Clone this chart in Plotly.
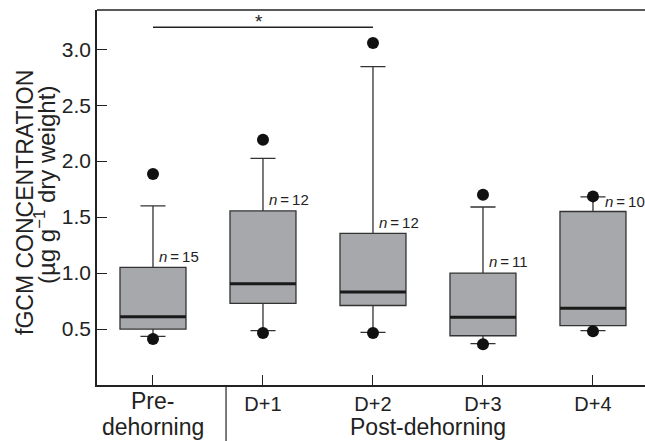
import plotly.graph_objects as go

categories = ["Pre-dehorning", "D+1", "D+2", "D+3", "D+4"]
n_labels = ["15", "12", "12", "11", "10"]
q1 = [0.50, 0.73, 0.71, 0.44, 0.53]
median = [0.61, 0.905, 0.83, 0.605, 0.685]
q3 = [1.05, 1.555, 1.355, 1.00, 1.55]
whisk_lo = [0.435, 0.485, 0.47, 0.37, 0.485]
whisk_hi = [1.60, 2.025, 2.845, 1.59, 1.68]
dot_lo = [0.41, 0.465, 0.465, 0.365, 0.48]
dot_hi = [1.885, 2.19, 3.055, 1.70, 1.685]
yticks = [0.5, 1.0, 1.5, 2.0, 2.5, 3.0]

pos = list(range(len(categories)))
BOXW = 0.6
FONT = "Liberation Sans, Arial, Helvetica, sans-serif"
PW, PH = 548, 375  # plot area size in px
TXT = "#222222"

fig = go.Figure()
fig.add_trace(go.Box(
    x=pos, q1=q1, median=median, q3=q3,
    lowerfence=whisk_lo, upperfence=whisk_hi,
    width=BOXW, whiskerwidth=0.38,
    fillcolor="#a7a8ab", line=dict(color="#333333", width=1.3),
    boxpoints=False, showlegend=False, hoverinfo="skip",
))
# thick median lines
for i, m in zip(pos, median):
    fig.add_trace(go.Scatter(
        x=[i - BOXW / 2, i + BOXW / 2], y=[m, m], mode="lines",
        line=dict(color="#1a1a1a", width=3), showlegend=False, hoverinfo="skip"))
# dots
fig.add_trace(go.Scatter(
    x=pos + pos, y=dot_lo + dot_hi, mode="markers",
    marker=dict(color="#111111", size=12), showlegend=False, hoverinfo="skip"))

# n labels
for i, n in enumerate(n_labels):
    if i == 4:
        xx, yy = i + 0.095, whisk_hi[i] - 0.04
    else:
        xx, yy = i + 0.04, q3[i] + 0.10
    fig.add_annotation(x=xx, y=yy, xref="x", yref="y", xanchor="left", yanchor="middle",
                       text=f"<i>n</i>\u2009=\u2009{n}", showarrow=False,
                       font=dict(family=FONT, size=15, color=TXT))

# significance bar
fig.add_trace(go.Scatter(x=[0, 2], y=[3.196, 3.196], mode="lines",
                         line=dict(color=TXT, width=1.6), showlegend=False, hoverinfo="skip"))
fig.add_annotation(x=0.965, y=3.25, text="*", showarrow=False, xref="x", yref="y",
                   font=dict(family=FONT, size=19, color=TXT))

# category 0 label (two lines) and group label
fig.add_annotation(x=0, y=-(401 - 385) / PH, xref="x", yref="paper", text="Pre-",
                   xanchor="center", yanchor="middle", showarrow=False,
                   font=dict(family=FONT, size=23, color=TXT))
fig.add_annotation(x=0, y=-(427 - 385) / PH, xref="x", yref="paper", text="dehorning",
                   xanchor="center", yanchor="middle", showarrow=False,
                   font=dict(family=FONT, size=23, color=TXT))
fig.add_annotation(x=2.5, y=-(427 - 385) / PH, xref="x", yref="paper", text="Post-dehorning",
                   xanchor="center", yanchor="middle", showarrow=False,
                   font=dict(family=FONT, size=23, color=TXT))
fig.add_shape(type="line", xref="x", yref="paper", x0=0.664, x1=0.664, y0=0, y1=-60 / PH,
              line=dict(color=TXT, width=1.2))
# top border
fig.add_shape(type="line", xref="paper", yref="paper", x0=0, x1=1, y0=1, y1=1,
              line=dict(color=TXT, width=1.5))

# y title
fig.add_annotation(x=(25 - 97) / PW, y=(385 - 203) / PH, xref="paper", yref="paper",
                   text="fGCM CONCENTRATION", xanchor="center", yanchor="middle",
                   textangle=-90, showarrow=False, font=dict(family=FONT, size=23, color=TXT))
fig.add_annotation(x=(45 - 97) / PW, y=(385 - 185) / PH, xref="paper", yref="paper",
                   text="(µg g<sup>−1</sup> dry weight)", xanchor="center", yanchor="middle",
                   textangle=-90, showarrow=False, font=dict(family=FONT, size=24, color=TXT))

ticktext = [""] + categories[1:]
fig.update_layout(
    width=645, height=441,
    margin=dict(l=97, r=0, t=10, b=56, autoexpand=False),
    plot_bgcolor="white", paper_bgcolor="white",
    font=dict(family=FONT, color=TXT),
    xaxis=dict(range=[-0.509, 4.473], tickvals=pos, ticktext=ticktext, automargin=False,
               ticks="inside", ticklen=10, tickcolor=TXT, tickwidth=1,
               showline=True, linecolor=TXT, linewidth=1.5,
               showgrid=False, zeroline=False, tickfont=dict(size=20, family=FONT, color=TXT)),
    yaxis=dict(range=[0, 3.35], tickvals=yticks, ticktext=[f"{v:.1f}" for v in yticks], automargin=False,
               ticks="inside", ticklen=10, tickcolor=TXT, tickwidth=1,
               showline=True, linecolor=TXT, linewidth=1.5,
               showgrid=False, zeroline=False, tickfont=dict(size=21, family=FONT, color=TXT)),
)
fig.write_html("out.html", config={"displayModeBar": False},
               post_script="document.body.style.margin='0';document.body.style.overflow='hidden';")
